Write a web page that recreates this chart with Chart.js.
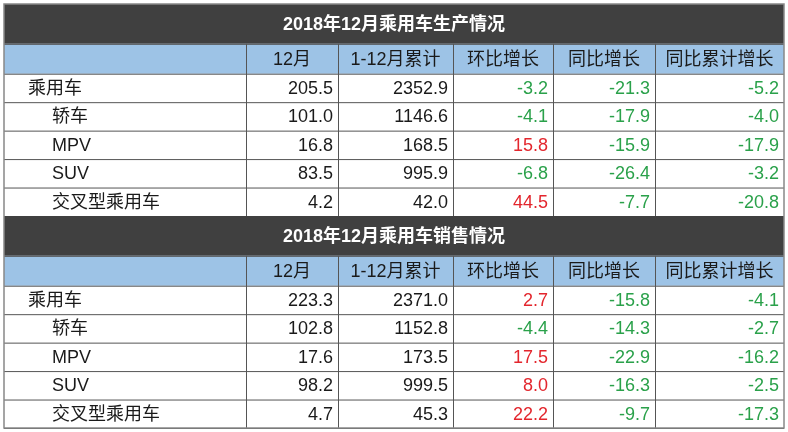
<!DOCTYPE html>
<html><head><meta charset="utf-8">
<script src="https://cdn.jsdelivr.net/npm/chart.js@4/dist/chart.umd.min.js"></script>
<style>html,body{margin:0;padding:0;background:#fff}#w{width:788px;height:432px}</style>
</head><body><div id="w"><canvas id="c"></canvas></div>
<script>
const titles = ["2018年12月乘用车生产情况", "2018年12月乘用车销售情况"];
const headers = ["", "12月", "1-12月累计", "环比增长", "同比增长", "同比累计增长"];
const categories = ["乘用车", "轿车", "MPV", "SUV", "交叉型乘用车"];
const prodMonth = [205.5, 101.0, 16.8, 83.5, 4.2];
const prodCum = [2352.9, 1146.6, 168.5, 995.9, 42.0];
const prodMoM = [-3.2, -4.1, 15.8, -6.8, 44.5];
const prodYoY = [-21.3, -17.9, -15.9, -26.4, -7.7];
const prodYoYCum = [-5.2, -4.0, -17.9, -3.2, -20.8];
const salesMonth = [223.3, 102.8, 17.6, 98.2, 4.7];
const salesCum = [2371.0, 1152.8, 173.5, 999.5, 45.3];
const salesMoM = [2.7, -4.4, 17.5, 8.0, 22.2];
const salesYoY = [-15.8, -14.3, -22.9, -16.3, -9.7];
const salesYoYCum = [-4.1, -2.7, -16.2, -2.5, -17.3];

const colEdges = [0, 242, 334, 449, 549, 651, 780];
const TITLE_H = 1.4, HEAD_H = 1.05;
const sections = [
  [prodMonth, prodCum, prodMoM, prodYoY, prodYoYCum],
  [salesMonth, salesCum, salesMoM, salesYoY, salesYoYCum]
];
const FONT = '"Liberation Sans","Noto Sans CJK SC",sans-serif';

const tablePlugin = {
  id: 'table',
  afterDraw(chart) {
    const ctx = chart.ctx, xs = chart.scales.x, ys = chart.scales.y;
    const X = v => xs.getPixelForValue(v), Y = v => ys.getPixelForValue(v);
    const L = X(0), R = X(780);
    let y0 = 0;
    ctx.save();
    sections.forEach((cols, s) => {
      ctx.fillStyle = '#404040';
      ctx.fillRect(L, Y(y0), R - L, Y(y0 + TITLE_H) - Y(y0));
      ctx.fillStyle = '#fff';
      ctx.font = 'bold 18px ' + FONT;
      ctx.textAlign = 'center'; ctx.textBaseline = 'middle';
      ctx.fillText(titles[s], (L + R) / 2, (Y(y0) + Y(y0 + TITLE_H)) / 2 + 1);
      const hy = y0 + TITLE_H;
      ctx.fillStyle = '#9dc3e6';
      ctx.fillRect(L, Y(hy), R - L, Y(hy + HEAD_H) - Y(hy));
      ctx.fillStyle = '#1a1a1a';
      ctx.font = '18px ' + FONT;
      headers.forEach((h, i) => {
        if (!h) return;
        ctx.fillText(h, (X(colEdges[i]) + X(colEdges[i + 1])) / 2, (Y(hy) + Y(hy + HEAD_H)) / 2 + 1);
      });
      const ry = hy + HEAD_H;
      categories.forEach((cat, r) => {
        const cy = (Y(ry + r) + Y(ry + r + 1)) / 2 + 1;
        ctx.textAlign = 'left'; ctx.fillStyle = '#1a1a1a';
        ctx.fillText(cat, X(r === 0 ? 24 : 48), cy);
        ctx.textAlign = 'right';
        cols.forEach((arr, c) => {
          const v = arr[r];
          ctx.fillStyle = c < 2 ? '#1a1a1a' : (v < 0 ? '#2aa14a' : '#e3262d');
          ctx.fillText(v.toFixed(1), X(colEdges[c + 2]) - 5, cy);
        });
      });
      ctx.strokeStyle = '#555'; ctx.lineWidth = 1;
      ctx.beginPath();
      for (let k = 0; k <= 5; k++) { ctx.moveTo(L, Y(ry + k) + 0.5); ctx.lineTo(R, Y(ry + k) + 0.5); }
      ctx.moveTo(L, Y(hy) + 0.5); ctx.lineTo(R, Y(hy) + 0.5);
      for (let i = 1; i < colEdges.length - 1; i++) {
        ctx.moveTo(Math.round(X(colEdges[i])) + 0.5, Y(hy)); ctx.lineTo(Math.round(X(colEdges[i])) + 0.5, Y(ry + 5));
      }
      ctx.stroke();
      y0 = ry + 5;
    });
    ctx.strokeStyle = '#888'; ctx.lineWidth = 1.5;
    ctx.strokeRect(L, Y(0), R - L, Y(y0) - Y(0));
    ctx.restore();
  }
};

const total = 2 * (TITLE_H + HEAD_H + 5);
new Chart(document.getElementById('c'), {
  type: 'scatter',
  data: { datasets: [{ data: [] }] },
  options: {
    responsive: true, maintainAspectRatio: false, animation: false,
    layout: { padding: { left: 4, right: 4, top: 4, bottom: 4 } },
    plugins: { legend: { display: false }, tooltip: { enabled: false } },
    scales: {
      x: { type: 'linear', min: 0, max: 780, display: false },
      y: { type: 'linear', min: 0, max: total, reverse: true, display: false }
    }
  },
  plugins: [tablePlugin]
});
</script></body></html>
